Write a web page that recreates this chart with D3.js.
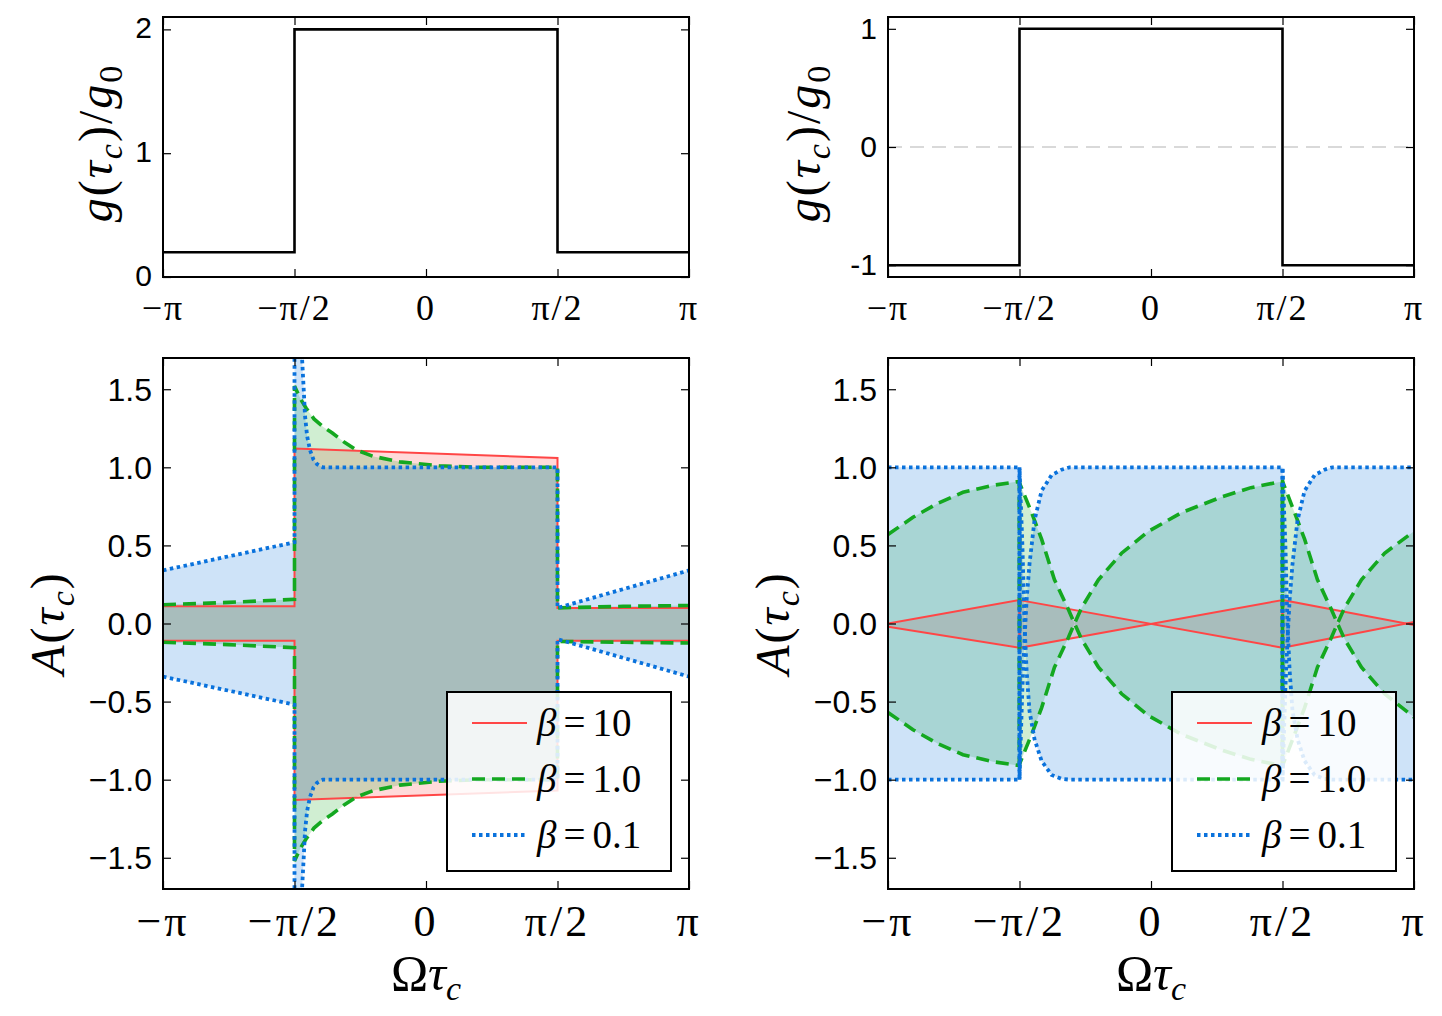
<!DOCTYPE html>
<html>
<head>
<meta charset="utf-8">
<script src="https://cdn.jsdelivr.net/npm/d3@7"></script>
<style>
body { margin: 0; background: #fff; }
</style>
</head>
<body>
<svg id="fig" width="1442" height="1016"></svg>
<script>
// x values are in units of pi
var piTicks = [-1, -0.5, 0, 0.5, 1];
var piLabels = ["\u2212\u03c0", "\u2212\u03c0/2", "0", "\u03c0/2", "\u03c0"];

// top panels: coupling g(tau_c)/g0
var gX = [-1, -0.5, -0.5, 0.5, 0.5, 1];
var gLeft = [0.2, 0.2, 2, 2, 0.2, 0.2];
var gRight = [-1, -1, 1, 1, -1, -1];
var gLeftTicks = [0, 1, 2];
var gRightTicks = [-1, 0, 1];

// bottom left panel: envelopes A(tau_c)
var redLX = [-1, -0.5, -0.5, 0.5, 0.5, 1];
var redLUp = [0.11, 0.11, 1.12, 1.06, 0.10, 0.10];
var redLLo = [-0.11, -0.11, -1.13, -1.07, -0.11, -0.11];

var greenLX = [-1, -0.75, -0.5, -0.5, -0.478, -0.456, -0.426, -0.392, -0.356, -0.31, -0.264, -0.2, -0.1, 0.05, 0.2, 0.5, 0.5, 0.75, 1];
var greenLUp = [0.12, 0.135, 0.155, 1.52, 1.44, 1.38, 1.31, 1.26, 1.22, 1.16, 1.11, 1.07, 1.035, 1.01, 1.0, 1.0, 0.10, 0.11, 0.115];
var greenLLo = [-0.12, -0.135, -0.155, -1.52, -1.44, -1.38, -1.31, -1.26, -1.22, -1.16, -1.11, -1.07, -1.035, -1.01, -1.0, -1.0, -0.115, -0.12, -0.125];

var blueLX = [-1, -0.5, -0.5, -0.492, -0.485, -0.478, -0.471, -0.465, -0.46, -0.452, -0.441, -0.428, -0.414, -0.4, -0.392, 0.5, 0.5, 1];
var blueLUp = [0.34, 0.52, 2.6, 2.2, 1.95, 1.8, 1.69, 1.5, 1.33, 1.2, 1.11, 1.05, 1.02, 1.005, 1.0, 1.0, 0.10, 0.34];
var blueLLo = [-0.34, -0.52, -2.6, -2.2, -1.95, -1.8, -1.69, -1.5, -1.33, -1.2, -1.11, -1.05, -1.02, -1.005, -1.0, -1.0, -0.10, -0.34];

// bottom right panel
var redRX = [-1, -0.5, -0.5, 0.5, 0.5, 1];
var redR1 = [0.0, 0.15, -0.155, 0.15, -0.155, 0.01];
var redR2 = [-0.02, -0.155, 0.15, -0.155, 0.15, -0.01];

var greenRX = [-1, -0.905, -0.81, -0.715, -0.6, -0.5, -0.5, -0.454, -0.416, -0.367, -0.314, -0.291, -0.264, -0.2, -0.112, -0.01, 0.116, 0.268, 0.38, 0.5, 0.5, 0.546, 0.584, 0.633, 0.686, 0.709, 0.736, 0.8, 0.888, 1];
var greenR1 = [0.57, 0.68, 0.77, 0.84, 0.885, 0.91, -0.9, -0.71, -0.54, -0.28, -0.09, 0, 0.1, 0.28, 0.45, 0.59, 0.71, 0.81, 0.87, 0.91, -0.91, -0.71, -0.54, -0.28, -0.09, 0, 0.1, 0.28, 0.45, 0.59];
var greenR2 = [-0.57, -0.68, -0.77, -0.84, -0.885, -0.91, 0.9, 0.71, 0.54, 0.28, 0.09, 0, -0.1, -0.28, -0.45, -0.59, -0.71, -0.81, -0.87, -0.91, 0.91, 0.71, 0.54, 0.28, 0.09, 0, -0.1, -0.28, -0.45, -0.6];

var blueRX = [-1, -0.5, -0.5, -0.489, -0.481, -0.473, -0.462, -0.443, -0.416, -0.378, -0.34, -0.31, 0.5, 0.5, 0.511, 0.519, 0.527, 0.538, 0.557, 0.584, 0.622, 0.66, 0.69, 1];
var blueR1 = [1, 1, -1, -0.41, -0.11, 0.15, 0.38, 0.66, 0.85, 0.95, 0.985, 1, 1, -1, -0.41, -0.11, 0.15, 0.38, 0.66, 0.85, 0.95, 0.985, 1, 1];
var blueR2 = [-1, -1, 1, 0.5, 0.0, -0.3, -0.56, -0.74, -0.88, -0.97, -0.995, -1, -1, 1, 0.5, 0.0, -0.3, -0.56, -0.74, -0.88, -0.97, -0.995, -1, -1];

var betaLabels = ["10", "1.0", "0.1"];

var RED = "#ff4646", GREEN = "#14a820", BLUE = "#0a72dc";
var SERIF = "Liberation Serif";
var SANS = "Liberation Sans";

var svg = d3.select("#fig");

var xLeft = d3.scaleLinear().domain([-1, 1]).range([163, 689]);
var xRight = d3.scaleLinear().domain([-1, 1]).range([888, 1414]);
var yTopL = d3.scaleLinear().domain([0, 2.1]).range([277, 17]);
var yTopR = d3.scaleLinear().domain([-1.1, 1.1]).range([277, 17]);
var yBot = d3.scaleLinear().domain([-1.7, 1.7]).range([889, 358]);
var bTicks = [-1.5, -1.0, -0.5, 0.0, 0.5, 1.0, 1.5];

function ticks(x, y, yTicks) {
    var g = svg.append("g");
    var x0 = x.range()[0], x1 = x.range()[1];
    var y0 = y.range()[0], y1 = y.range()[1];
    g.append("g").attr("transform", "translate(0," + y0 + ")")
        .call(d3.axisBottom(x).tickValues(piTicks).tickSize(-8).tickFormat(""));
    g.append("g").attr("transform", "translate(0," + y1 + ")")
        .call(d3.axisTop(x).tickValues(piTicks).tickSize(-8).tickFormat(""));
    g.append("g").attr("transform", "translate(" + x0 + ",0)")
        .call(d3.axisLeft(y).tickValues(yTicks).tickSize(-8).tickFormat(""));
    g.append("g").attr("transform", "translate(" + x1 + ",0)")
        .call(d3.axisRight(y).tickValues(yTicks).tickSize(-8).tickFormat(""));
    g.selectAll(".domain").remove();
    g.selectAll(".tick line").attr("stroke", "#000").attr("stroke-width", 1.2);
}

function frame(x, y) {
    svg.append("rect")
        .attr("x", x.range()[0]).attr("y", y.range()[1])
        .attr("width", x.range()[1] - x.range()[0])
        .attr("height", y.range()[0] - y.range()[1])
        .attr("fill", "none").attr("stroke", "#000").attr("stroke-width", 2);
}

function xLabels(x, baseline, size, spacing) {
    svg.append("g").selectAll("text").data(piTicks).enter()
        .append("text")
        .attr("x", function(d) { return x(d); })
        .attr("y", baseline)
        .attr("text-anchor", "middle")
        .attr("font-family", SERIF)
        .attr("font-size", size)
        .attr("letter-spacing", spacing)
        .text(function(d, i) { return piLabels[i]; });
}

function yLabels(x, y, vals, fmt, size, dy) {
    svg.append("g").selectAll("text").data(vals).enter()
        .append("text")
        .attr("x", x.range()[0] - 11)
        .attr("y", function(d) { return y(d); })
        .attr("dy", dy)
        .attr("text-anchor", "end")
        .attr("font-family", SANS)
        .attr("font-size", size)
        .text(fmt);
}

function mathText(t, parts) {
    // parts: [text, italic, sub, back up]
    parts.forEach(function(p) {
        var s = t.append("tspan").text(p[0]);
        if (p[1]) s.attr("font-style", "italic");
        if (p[2]) s.attr("font-size", 34).attr("dy", 10);
        if (p[3]) s.attr("dy", -10);
    });
}

function rotTitle(cx, cy, parts) {
    var t = svg.append("text")
        .attr("transform", "translate(" + cx + "," + cy + ") rotate(-90)")
        .attr("text-anchor", "middle")
        .attr("font-family", SERIF)
        .attr("font-size", 48)
        .attr("letter-spacing", 2);
    mathText(t, parts);
}

var gParts = [["g", true], ["(", false], ["\u03c4", true], ["c", true, true], [")/", false, false, true], ["g", true], ["0", false, true]];
var aParts = [["A", true], ["(", false], ["\u03c4", true], ["c", true, true], [")", false, false, true]];
var oParts = [["\u03a9", false], ["\u03c4", true], ["c", true, true]];

function omegaTitle(cx, baseline) {
    var t = svg.append("text")
        .attr("x", cx).attr("y", baseline)
        .attr("text-anchor", "middle")
        .attr("font-family", SERIF)
        .attr("font-size", 50);
    mathText(t, oParts);
}

function stepLine(x, y, ys) {
    var line = d3.line().x(function(d) { return x(d[0]); }).y(function(d) { return y(d[1]); });
    svg.append("path").datum(d3.zip(gX, ys))
        .attr("d", line)
        .attr("fill", "none").attr("stroke", "#000").attr("stroke-width", 2.6);
}

// ---------- top left ----------
stepLine(xLeft, yTopL, gLeft);
ticks(xLeft, yTopL, gLeftTicks);
frame(xLeft, yTopL);
xLabels(xLeft, 320, 36, 2);
yLabels(xLeft, yTopL, gLeftTicks, function(d) { return d; }, 30, "0.3em");
rotTitle(112, 143, gParts);

// ---------- top right ----------
svg.append("line")
    .attr("x1", xRight(-1)).attr("x2", xRight(1))
    .attr("y1", yTopR(0)).attr("y2", yTopR(0))
    .attr("stroke", "#d9d9d9").attr("stroke-width", 2).attr("stroke-dasharray", "14,8");
stepLine(xRight, yTopR, gRight);
ticks(xRight, yTopR, gRightTicks);
frame(xRight, yTopR);
xLabels(xRight, 320, 36, 2);
yLabels(xRight, yTopR, gRightTicks, function(d) { return d; }, 30, "0.34em");
rotTitle(820, 143, gParts);

// ---------- bottom panels ----------
var series = [
    {color: RED, dash: null, width: 2, fill: "rgba(255,70,70,0.2)"},
    {color: GREEN, dash: "13,7", width: 3.6, fill: "rgba(20,168,32,0.2)"},
    {color: BLUE, dash: "3.5,3.5", width: 3.8, fill: "rgba(10,114,220,0.2)"}
];

function bottomPanel(x, id, sets) {
    var y = yBot;
    svg.append("clipPath").attr("id", id)
        .append("rect")
        .attr("x", x.range()[0]).attr("y", y.range()[1])
        .attr("width", x.range()[1] - x.range()[0])
        .attr("height", y.range()[0] - y.range()[1]);
    var g = svg.append("g").attr("clip-path", "url(#" + id + ")");
    var area = d3.area()
        .x(function(d) { return x(d[0]); })
        .y0(function(d) { return y(d[2]); })
        .y1(function(d) { return y(d[1]); });
    var line = d3.line().x(function(d) { return x(d[0]); }).y(function(d) { return y(d[1]); });

    sets.forEach(function(s, i) {
        g.append("path").datum(d3.zip(s[0], s[1], s[2]))
            .attr("d", area)
            .attr("fill", series[i].fill).attr("stroke", "none");
    });
    sets.forEach(function(s, i) {
        [s[1], s[2]].forEach(function(ys) {
            g.append("path").datum(d3.zip(s[0], ys))
                .attr("d", line)
                .attr("fill", "none")
                .attr("stroke", series[i].color)
                .attr("stroke-width", series[i].width)
                .attr("stroke-dasharray", series[i].dash);
        });
    });

    ticks(x, y, bTicks);
    frame(x, y);
    xLabels(x, 936, 44, 3);
    yLabels(x, y, bTicks, function(d) { return d3.format(".1f")(d).replace("-", "\u2212"); }, 32, "0.36em");
    omegaTitle((x.range()[0] + x.range()[1]) / 2, 990);

    // legend
    var lx = x.range()[1] - 242, ly = 692;
    var lg = svg.append("g");
    lg.append("rect")
        .attr("x", lx).attr("y", ly).attr("width", 224).attr("height", 179)
        .attr("fill", "rgba(255,255,255,0.85)")
        .attr("stroke", "#000").attr("stroke-width", 2);
    series.forEach(function(s, i) {
        var yy = ly + 31 + i * 56;
        lg.append("line")
            .attr("x1", lx + 25).attr("x2", lx + 80)
            .attr("y1", yy).attr("y2", yy)
            .attr("stroke", s.color).attr("stroke-width", s.width)
            .attr("stroke-dasharray", s.dash);
        var t = lg.append("text")
            .attr("x", lx + 90).attr("y", yy + 13)
            .attr("font-family", SERIF)
            .attr("font-size", 39);
        t.append("tspan").attr("font-style", "italic").text("\u03b2");
        t.append("tspan").attr("dx", 7).text("=");
        t.append("tspan").attr("dx", 7).text(betaLabels[i]);
    });
}

bottomPanel(xLeft, "clipL", [
    [redLX, redLUp, redLLo],
    [greenLX, greenLUp, greenLLo],
    [blueLX, blueLUp, blueLLo]
]);
rotTitle(64, 623, aParts);

bottomPanel(xRight, "clipR", [
    [redRX, redR1, redR2],
    [greenRX, greenR1, greenR2],
    [blueRX, blueR1, blueR2]
]);
rotTitle(789, 623, aParts);
</script>
</body>
</html>
